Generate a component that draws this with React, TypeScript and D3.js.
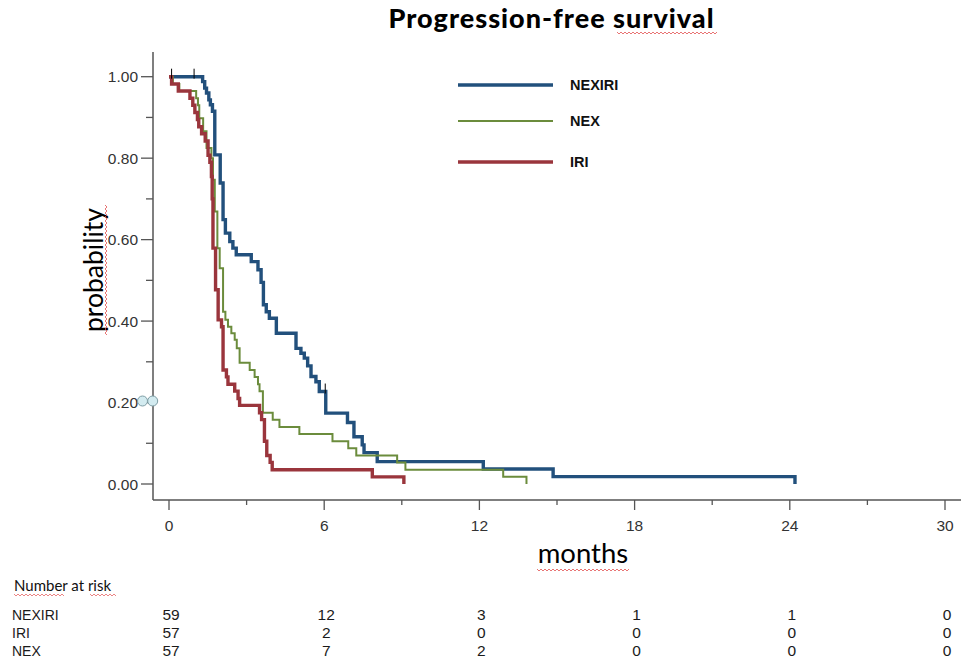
import React from "react";
import * as d3 from "d3";

// ---- data ----
const seriesNames = ["NEXIRI", "NEX", "IRI"];
const seriesColors = ["#22507c", "#6b8c3c", "#9a353c"];

// [months, survival probability] – step points
const nexiri: [number, number][] = [
  [0, 1.0], [1.3, 0.988], [1.38, 0.972], [1.45, 0.96], [1.54, 0.943], [1.6, 0.931],
  [1.68, 0.915], [1.77, 0.808], [1.98, 0.739], [2.09, 0.649], [2.18, 0.616],
  [2.35, 0.595], [2.47, 0.579], [2.6, 0.563], [3.18, 0.546], [3.44, 0.526],
  [3.56, 0.495], [3.65, 0.44], [3.76, 0.423], [3.88, 0.407], [4.15, 0.37],
  [4.91, 0.333], [5.1, 0.321], [5.23, 0.309], [5.36, 0.29], [5.49, 0.264],
  [5.68, 0.251], [5.81, 0.227], [6.06, 0.174], [6.9, 0.151], [7.15, 0.116],
  [7.47, 0.096], [7.54, 0.077], [8.05, 0.055], [12.15, 0.037], [14.85, 0.018],
  [24.2, 0.0],
];
const nex: [number, number][] = [
  [0, 1.0], [0.15, 0.982], [0.4, 0.965], [1.05, 0.947], [1.12, 0.93], [1.17, 0.898],
  [1.32, 0.866], [1.45, 0.825], [1.64, 0.8], [1.7, 0.747], [1.77, 0.669],
  [1.87, 0.579], [1.96, 0.53], [2.09, 0.423], [2.18, 0.403], [2.28, 0.386],
  [2.41, 0.37], [2.54, 0.354], [2.62, 0.333], [2.73, 0.298], [3.12, 0.28],
  [3.31, 0.263], [3.44, 0.245], [3.5, 0.228], [3.63, 0.175], [4.01, 0.158],
  [4.27, 0.14], [5.04, 0.123], [6.32, 0.105], [6.93, 0.088], [7.24, 0.07],
  [8.82, 0.053], [9.14, 0.035], [12.92, 0.0175], [13.82, 0.0],
];
const iri: [number, number][] = [
  [0, 1.0], [0.1, 0.982], [0.36, 0.965], [0.81, 0.947], [0.92, 0.93], [1.0, 0.912],
  [1.1, 0.895], [1.15, 0.877], [1.26, 0.86], [1.4, 0.842], [1.51, 0.807],
  [1.58, 0.79], [1.64, 0.755], [1.67, 0.7], [1.7, 0.579], [1.8, 0.477],
  [1.9, 0.403], [2.03, 0.386], [2.09, 0.28], [2.22, 0.263], [2.28, 0.245],
  [2.54, 0.228], [2.67, 0.21], [2.73, 0.193], [3.5, 0.175], [3.58, 0.158],
  [3.69, 0.105], [3.78, 0.07], [3.91, 0.053], [3.99, 0.035], [7.86, 0.0175],
  [9.08, 0.0],
];
const censorNexiri: [number, number][] = [[0.1, 1.0], [0.97, 1.0], [6.04, 0.227]];

const xTicksMajor = [0, 6, 12, 18, 24, 30];
const xTicksMinor = [3, 9, 15, 21, 27];
const yTicksMajor = [0, 0.2, 0.4, 0.6, 0.8, 1.0];
const yTicksMinor = [0.1, 0.3, 0.5, 0.7, 0.9];

const riskTimes = [0, 6, 12, 18, 24, 30];
const riskRows = ["NEXIRI", "IRI", "NEX"];
const riskNexiri = [59, 12, 3, 1, 1, 0];
const riskIri = [57, 2, 0, 0, 0, 0];
const riskNex = [57, 7, 2, 0, 0, 0];

const W = 961;
const H = 664;

function wavy(x0: number, x1: number, y: number, vertical = false) {
  // spell-check style squiggle
  const pts: string[] = [];
  const step = 2;
  let i = 0;
  for (let v = x0; v <= x1; v += step, i++) {
    const off = i % 2 === 0 ? -1 : 1;
    pts.push(vertical ? `${y + off},${v}` : `${v},${y + off}`);
  }
  return "M" + pts.join("L");
}

export default function App() {
  const x = d3.scaleLinear().domain([0, 30]).range([169, 945]);
  const y = d3.scaleLinear().domain([0, 1]).range([484, 76.7]);
  const line = d3
    .line<[number, number]>()
    .x((d) => x(d[0]))
    .y((d) => y(d[1]))
    .curve(d3.curveStepAfter);

  const axisColor = "#555";
  const tickFont = "'Liberation Sans', Arial, sans-serif";
  const curves = [
    { data: nexiri, color: seriesColors[0], w: 3.4 },
    { data: nex, color: seriesColors[1], w: 2 },
    { data: iri, color: seriesColors[2], w: 3.4 },
  ];
  const legendY = [85, 121, 162];
  const legendW = [3.6, 2, 3.6];
  const riskData = [riskNexiri, riskIri, riskNex];
  const riskY = [620, 638, 656];

  return (
    <svg
      width={W}
      height={H}
      style={{ position: "absolute", left: 0, top: 0, background: "#fff" }}
    >
      <rect x={0} y={0} width={W} height={H} fill="#fff" />
      {/* title */}
      <text
        x={551}
        y={28}
        textAnchor="middle"
        fontFamily="Lato, 'Open Sans', sans-serif"
        fontWeight={900}
        fontSize={27}
        textLength={325}
        lengthAdjust="spacing"
        fill="#000"
      >
        Progression-free survival
      </text>
      <path d={wavy(617, 717, 33)} stroke="#e25050" strokeWidth={0.8} fill="none" />

      {/* axes */}
      <line x1={153} x2={153} y1={52} y2={500} stroke={axisColor} strokeWidth={1.5} />
      <line x1={153} x2={961} y1={500} y2={500} stroke={axisColor} strokeWidth={1.5} />
      {yTicksMajor.map((t) => (
        <g key={"ym" + t}>
          <line x1={141} x2={153} y1={y(t)} y2={y(t)} stroke={axisColor} strokeWidth={1.3} />
          <text
            x={138}
            y={y(t)}
            dy="0.36em"
            textAnchor="end"
            fontFamily={tickFont}
            fontSize={15.5}
            fill="#333"
          >
            {t.toFixed(2)}
          </text>
        </g>
      ))}
      {yTicksMinor.map((t) => (
        <line key={"yn" + t} x1={146} x2={153} y1={y(t)} y2={y(t)} stroke={axisColor} strokeWidth={1.3} />
      ))}
      {xTicksMajor.map((t) => (
        <g key={"xm" + t}>
          <line x1={x(t)} x2={x(t)} y1={500} y2={510} stroke={axisColor} strokeWidth={1.3} />
          <text
            x={x(t)}
            y={531}
            textAnchor="middle"
            fontFamily={tickFont}
            fontSize={15.5}
            fill="#333"
          >
            {t}
          </text>
        </g>
      ))}
      {xTicksMinor.map((t) => (
        <line key={"xn" + t} x1={x(t)} x2={x(t)} y1={500} y2={505} stroke={axisColor} strokeWidth={1.3} />
      ))}

      {/* odd circle markers near 0.20 */}
      <circle cx={142.5} cy={401} r={5} fill="#d3ebf0" stroke="#7f9ea5" strokeWidth={1} />
      <circle cx={152.7} cy={401} r={5} fill="#d3ebf0" stroke="#7f9ea5" strokeWidth={1} />

      {/* axis titles */}
      <text
        transform="translate(103,270) rotate(-90)"
        textAnchor="middle"
        fontFamily="Lato, 'Open Sans', sans-serif"
        fontSize={26.5}
        fill="#000"
      >
        probability
      </text>
      <path d={wavy(205, 335, 106, true)} stroke="#e25050" strokeWidth={0.8} fill="none" />
      <text
        x={583}
        y={563}
        textAnchor="middle"
        fontFamily="Lato, 'Open Sans', sans-serif"
        fontSize={27.5}
        fill="#000"
      >
        months
      </text>
      <path d={wavy(537, 630, 570)} stroke="#e25050" strokeWidth={0.8} fill="none" />

      {/* curves */}
      {curves.map((c, i) => (
        <path
          key={"c" + i}
          d={line(c.data) || ""}
          fill="none"
          stroke={c.color}
          strokeWidth={c.w}
          strokeLinejoin="miter"
        />
      ))}
      {censorNexiri.map((d, i) => (
        <line
          key={"cs" + i}
          x1={x(d[0])}
          x2={x(d[0])}
          y1={y(d[1]) - 8}
          y2={y(d[1]) + 2}
          stroke="#000"
          strokeWidth={1}
        />
      ))}

      {/* legend */}
      {seriesNames.map((n, i) => (
        <g key={"lg" + n}>
          <line
            x1={458}
            x2={553}
            y1={legendY[i]}
            y2={legendY[i]}
            stroke={seriesColors[i]}
            strokeWidth={legendW[i]}
          />
          <text
            x={570}
            y={legendY[i] + 5}
            fontFamily={tickFont}
            fontWeight={700}
            fontSize={14.5}
            fill="#111"
          >
            {n}
          </text>
        </g>
      ))}

      {/* number at risk */}
      <text x={14} y={591} fontFamily="Lato, 'Open Sans', sans-serif" fontSize={15} fill="#111">
        Number at risk
      </text>
      <path d={wavy(14, 64, 595)} stroke="#e25050" strokeWidth={0.7} fill="none" />
      <path d={wavy(90, 117, 595)} stroke="#e25050" strokeWidth={0.7} fill="none" />
      {riskRows.map((r, i) => (
        <g key={"rr" + r}>
          <text x={12} y={riskY[i]} fontFamily={tickFont} fontSize={14} fill="#1a1a1a">
            {r}
          </text>
          {riskData[i].map((v, j) => (
            <text
              key={j}
              x={x(riskTimes[j]) + 2}
              y={riskY[i]}
              textAnchor="middle"
              fontFamily={tickFont}
              fontSize={15.5}
              fill="#1a1a1a"
            >
              {v}
            </text>
          ))}
        </g>
      ))}
    </svg>
  );
}
